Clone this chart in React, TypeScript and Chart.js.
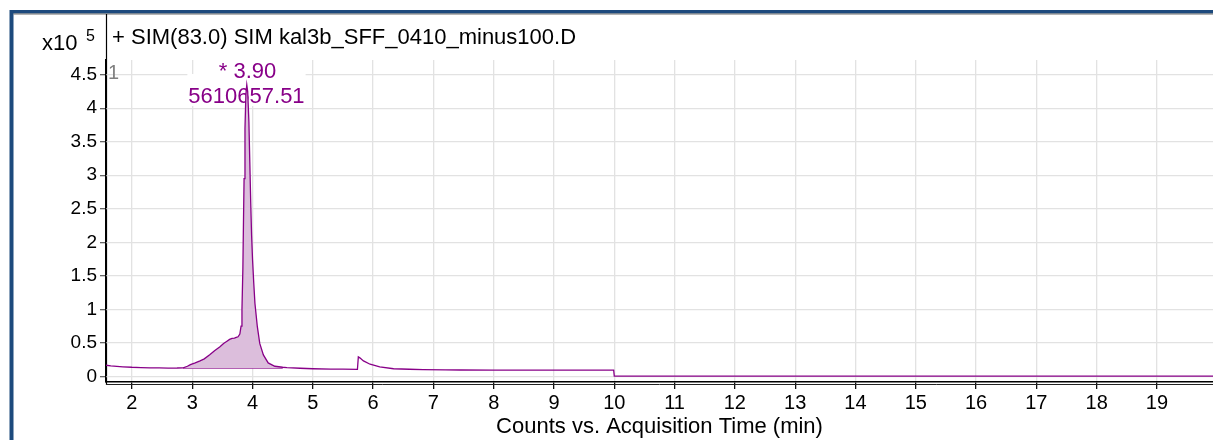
import React, { useEffect, useRef } from "react";
import { Chart, registerables } from "chart.js";

Chart.register(...registerables);

// Acquisition time (min) and counts (x10^5)
const timeMin = [
  1.57, 1.65, 1.75, 1.85, 2.0, 2.15, 2.3, 2.45, 2.6, 2.75, 2.85, 2.92, 2.97, 3.05, 3.13,
  3.2, 3.29, 3.37, 3.46, 3.52, 3.57, 3.62, 3.66, 3.7, 3.73, 3.76, 3.79, 3.81, 3.825, 3.84,
  3.85, 3.86, 3.875, 3.89, 3.905, 3.92, 3.94, 3.955, 3.97, 3.985, 4.0, 4.02, 4.04, 4.08, 4.12,
  4.18, 4.26, 4.37, 4.5, 4.57, 4.79, 5.0, 5.3, 5.5, 5.74, 5.755, 5.78, 5.84, 5.95, 6.11,
  6.34, 6.6, 6.83, 7.2, 7.44, 8.0, 8.5, 9.0, 9.5, 9.99, 10.0, 19.93,
];
const counts = [
  0.165, 0.155, 0.148, 0.142, 0.135, 0.131, 0.127, 0.126, 0.123, 0.124, 0.127, 0.15, 0.175, 0.2, 0.23,
  0.26, 0.32, 0.38, 0.44, 0.49, 0.52, 0.55, 0.565, 0.57, 0.58, 0.59, 0.63, 0.75, 1.0, 1.6,
  2.3, 2.95, 3.7, 4.2, 4.35, 4.25, 3.8, 3.2, 2.6, 2.1, 1.75, 1.4, 1.09, 0.74, 0.49,
  0.32, 0.2, 0.15, 0.135, 0.13, 0.12, 0.113, 0.108, 0.106, 0.103, 0.29, 0.275, 0.23, 0.18, 0.14,
  0.113, 0.105, 0.1, 0.096, 0.094, 0.093, 0.092, 0.092, 0.091, 0.091, 0.004, 0.004,
];

// Integrated peak: start/end times and the drawn baseline
const peakRange = [2.85, 4.5];
const baselineTimes = [2.85, 4.5];
const baselineCounts = [0.122, 0.122];

const xTicks = [2, 3, 4, 5, 6, 7, 8, 9, 10, 11, 12, 13, 14, 15, 16, 17, 18, 19];
const yTicks = [0, 0.5, 1, 1.5, 2, 2.5, 3, 3.5, 4, 4.5];

const titleText = "+ SIM(83.0) SIM kal3b_SFF_0410_minus100.D";
const xTitleText = "Counts vs. Acquisition Time (min)";
const peakTimeLabel = "* 3.90";
const peakAreaLabel = "5610657.51";
const peakTime = 3.9;
const scaleExpBase = "x10";
const scaleExp = "5";
const chromIndex = "1";

const FONT = "'Liberation Sans', Arial, Helvetica, sans-serif";
const PURPLE = "#880088";
const FILL = "#dcbedc";
const BLUE = "#1d4a7d";

const decorPlugin = {
  id: "decor",
  beforeDraw(chart: any) {
    const ctx = chart.ctx;
    const { left, bottom } = chart.chartArea;
    ctx.save();
    ctx.fillStyle = "#ffffff";
    ctx.fillRect(0, 0, chart.width, chart.height);
    // blue frame
    ctx.fillStyle = BLUE;
    ctx.fillRect(10, 10, chart.width - 10, 3.5);
    ctx.fillRect(9.5, 10, 4, chart.height - 10);
    ctx.fillStyle = "#6a6a6a";
    ctx.fillRect(13.5, 13.5, chart.width - 13.5, 1);
    // left axis line extending to top
    ctx.strokeStyle = "#000";
    ctx.lineWidth = 1.2;
    ctx.beginPath();
    ctx.moveTo(left + 0.5, 14);
    ctx.lineTo(left + 0.5, bottom + 3);
    ctx.stroke();
    ctx.restore();
  },
  beforeDatasetsDraw(chart: any) {
    const ctx = chart.ctx;
    const xs = chart.scales.x;
    const px = xs.getPixelForValue(peakTime);
    ctx.save();
    ctx.font = `22px ${FONT}`;
    ctx.textAlign = "center";
    ctx.textBaseline = "alphabetic";
    const w1 = ctx.measureText(peakTimeLabel).width;
    const w2 = ctx.measureText(peakAreaLabel).width;
    ctx.fillStyle = "#fff";
    ctx.fillRect(px - w1 / 2 - 1, 60, w1 + 2, 18);
    ctx.fillRect(px - w2 / 2 - 1, 74, w2 + 2, 32);
    ctx.fillStyle = PURPLE;
    ctx.fillText(peakTimeLabel, px + 1, 78);
    ctx.fillText(peakAreaLabel, px, 103);
    ctx.restore();
  },
  afterDraw(chart: any) {
    const ctx = chart.ctx;
    const { left, right, bottom } = chart.chartArea;
    ctx.save();
    // second axis line under x-axis
    ctx.strokeStyle = "#222";
    ctx.lineWidth = 1;
    ctx.beginPath();
    ctx.moveTo(left, bottom + 2.5);
    ctx.lineTo(right, bottom + 2.5);
    ctx.stroke();
    // title
    ctx.fillStyle = "#000";
    ctx.textAlign = "left";
    ctx.textBaseline = "alphabetic";
    ctx.font = `22px ${FONT}`;
    ctx.fillText(titleText, 112, 44);
    ctx.font = `22px ${FONT}`;
    ctx.fillText(scaleExpBase, 42, 50);
    ctx.font = `16px ${FONT}`;
    ctx.fillText(scaleExp, 86, 41);
    // chromatogram index
    ctx.fillStyle = "#808080";
    ctx.font = `20px ${FONT}`;
    ctx.fillText(chromIndex, 108, 79);
    ctx.restore();
  },
};

export default function App() {
  const canvasRef = useRef<HTMLCanvasElement | null>(null);

  useEffect(() => {
    const canvas = canvasRef.current;
    if (!canvas) return;
    const signal = timeMin.map((t, i) => ({ x: t, y: counts[i] }));
    const peakPart = signal.filter((p) => p.x >= peakRange[0] && p.x <= peakRange[1]);
    const baseline = baselineTimes.map((t, i) => ({ x: t, y: baselineCounts[i] }));

    const chart = new Chart(canvas, {
      type: "line",
      data: {
        datasets: [
          {
            data: signal,
            borderColor: PURPLE,
            borderWidth: 1.3,
            pointRadius: 0,
            fill: false,
            tension: 0,
          },
          {
            data: peakPart,
            borderColor: "rgba(0,0,0,0)",
            borderWidth: 0,
            pointRadius: 0,
            backgroundColor: FILL,
            fill: "+1",
            tension: 0,
          },
          {
            data: baseline,
            borderColor: PURPLE,
            borderWidth: 1.2,
            pointRadius: 0,
            fill: false,
          },
        ],
      },
      options: {
        responsive: false,
        animation: false,
        devicePixelRatio: 1,
        layout: { padding: { left: 0, right: 0, top: 60, bottom: 0 } },
        plugins: {
          legend: { display: false },
          tooltip: { enabled: false },
          title: { display: false },
        },
        scales: {
          x: {
            type: "linear",
            min: 1.57,
            max: 19.93,
            afterBuildTicks: (scale: any) => {
              scale.ticks = xTicks.map((v) => ({ value: v }));
            },
            afterFit: (scale: any) => {
              scale.height = 58;
            },
            grid: {
              color: "#e2e2e2",
              lineWidth: 1.3,
              tickColor: "#111",
              tickLength: 7,
              drawTicks: true,
            },
            border: { display: true, color: "#000", width: 1.5 },
            ticks: {
              color: "#000",
              font: { family: FONT, size: 20 },
              padding: 2,
              maxRotation: 0,
              autoSkip: false,
              callback: (v: any) => String(v),
            },
            title: {
              display: true,
              text: xTitleText,
              color: "#000",
              font: { family: FONT, size: 22 },
              padding: { top: 0, bottom: 0 },
            },
          },
          y: {
            type: "linear",
            min: -0.085,
            max: 4.72,
            afterBuildTicks: (scale: any) => {
              scale.ticks = yTicks.map((v) => ({ value: v }));
            },
            afterFit: (scale: any) => {
              scale.width = 106;
            },
            grid: {
              color: "#e2e2e2",
              lineWidth: 1.3,
              tickColor: "#666",
              tickLength: 6,
              drawTicks: true,
            },
            border: { display: true, color: "#000", width: 1.2 },
            ticks: {
              color: "#000",
              font: { family: FONT, size: 19 },
              padding: 3,
              autoSkip: false,
              callback: (v: any) => String(v),
            },
          },
        },
      },
      plugins: [decorPlugin],
    });

    return () => chart.destroy();
  }, []);

  return (
    <div
      style={{
        position: "absolute",
        left: 0,
        top: 0,
        width: 1213,
        height: 440,
        background: "#fff",
      }}
    >
      <canvas
        ref={canvasRef}
        width={1213}
        height={440}
        style={{ display: "block", width: 1213, height: 440 }}
      />
    </div>
  );
}
